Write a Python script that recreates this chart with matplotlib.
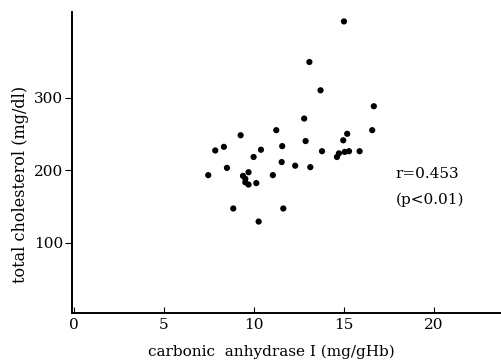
import matplotlib.pyplot as plt

# carbonic anhydrase I (mg/gHb) vs total cholesterol (mg/dl)
ca1 = [7.48, 7.87, 8.35, 8.52, 9.28, 8.87, 9.41, 9.54, 9.54, 9.72, 9.72,
       10.0, 10.15, 10.28, 10.41, 11.07, 11.26, 11.59, 11.56, 11.65, 12.31,
       12.81, 12.89, 13.1, 13.15, 15.02, 13.72, 16.68, 16.59, 15.2, 14.98,
       13.8, 15.89, 15.3, 15.06, 14.74, 14.63]
chol = [193, 227, 232, 203, 248, 147, 192, 188, 183, 197, 180,
        218, 182, 129, 228, 193, 255, 233, 211, 147, 206,
        271, 240, 349, 204, 405, 310, 288, 255, 250, 241,
        226, 226, 226, 225, 223, 218]

xticks = [0, 5, 10, 15, 20]
yticks = [100, 200, 300]

plt.rcParams['font.family'] = ['DejaVu Serif']

fig = plt.figure(figsize=(5.02, 3.63), dpi=100)
ax = fig.add_axes([0.143, 0.138, 0.857, 0.829])

ax.scatter(ca1, chol, s=20, color='black', edgecolors='none')

ax.set_xlim(-0.1, 23.8)
ax.set_ylim(3, 418)
ax.set_xticks(xticks)
ax.set_yticks(yticks)
ax.tick_params(axis='x', direction='in', length=4, labelsize=11, pad=4)
ax.tick_params(axis='y', direction='out', length=5, labelsize=11, pad=1)

for side in ['top', 'right']:
    ax.spines[side].set_visible(False)
for side in ['left', 'bottom']:
    ax.spines[side].set_linewidth(1.4)

ax.set_xlabel('carbonic  anhydrase I (mg/gHb)', fontsize=11)
ax.set_ylabel('total cholesterol (mg/dl)', fontsize=11.5)
ax.xaxis.set_label_coords(0.465, -0.104)
ax.yaxis.set_label_coords(-0.099, 0.427)

ax.text(17.9, 195, 'r=0.453', fontsize=11, va='center')
ax.text(17.9, 159, '(p<0.01)', fontsize=11, va='center')

fig.savefig('out.png', dpi=100)
